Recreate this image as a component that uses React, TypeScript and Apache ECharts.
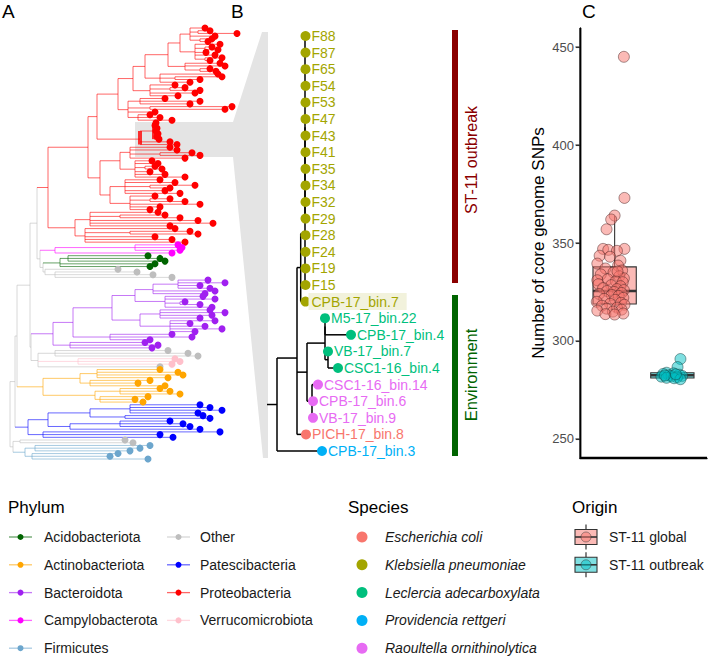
import React, { useEffect, useRef } from 'react';
import * as echarts from 'echarts';

const FONT = '"Liberation Sans", Arial, Helvetica, sans-serif';

// ---------- legend / colour scales ----------
const phylumNames = ['Acidobacteriota', 'Actinobacteriota', 'Bacteroidota', 'Campylobacterota', 'Firmicutes', 'Other', 'Patescibacteria', 'Proteobacteria', 'Verrucomicrobiota'];
const phylumColors = ['#006400', '#FFA500', '#A020F0', '#FF00FF', '#6CA6CD', '#BEBEBE', '#0000FF', '#FF0000', '#FFC0CB'];
const speciesNames = ['Escherichia coli', 'Klebsiella pneumoniae', 'Leclercia adecarboxylata', 'Providencia rettgeri', 'Raoultella ornithinolytica'];
const speciesColors = ['#F8766D', '#A3A500', '#00BF7D', '#00B0F6', '#E76BF3'];
const originNames = ['ST-11 global', 'ST-11 outbreak'];
const originColors = ['#F8766D', '#00BFC4'];

// ---------- Panel A: phylogeny (nested [nodeDepth, ...children]; a number is a tip depth) ----------
type TNode = number | TNode[] | { phylum?: string; hl?: boolean; t: TNode };

const proteobacteria: TNode = [48,
  [88,
    [97,
      [118,
        [133,
          [145,
            [168,
              [180,
                [190, 205, [198, 210, 237], 215, [200, 212, 208]],
                [195, 220, [205, 212, 218], 206, 215, [205, 222, 210]]],
              [185, 220, 225, [200, 210, 216]]],
            [160, 218, [175, 222, 200], 190]],
          [150, 175, [170, 185, 200], 195, 178]],
        [128, [140, 165, 200, 190], [150, 232, 225], 155, [138, 150, 160, 172]]],
      { hl: true, t: [140, [154, 156, 155, 157, 156, 158, 157, 159], 170, 177] }],
    [100,
      [120, [130, 170, 177, [160, 192, 200], 185], [135, 152, 158, [145, 155, 162], 150, 165, 185]],
      [110, [125, 160, 175, [150, 195, 170], 165, 180], [130, 155, [150, 170, 185], 200, 160, 150]]]],
  [62, [75, [90, 158, [120, 165, 180], 198, 213, 170], [85, 175, [130, 190, 198], 155, 172, 185]]]];
const campylobacterota: TNode = [55, [135, 178, 182, 180], 172];
const acidobacteriota: TNode = [48, [60, [68, 148, 160, 165], 155, 150]];
const otherA: TNode = [45, 118, [55, 137, 153, 172]];
const bacteroidota: TNode = [53,
  [73,
    [112,
      [135,
        [153, [178, 208, 225, 200, 210], 215, 205],
        [165, 203, 215, [180, 185, 200], 212]],
      [140, [160, 210, 225, 212, 200], [170, 215, 190, 205, 222, 195]]],
    [110, 172, 192, 150]],
  [70, 145, 158, 152]];
const verrucomicrobiota: TNode = [42, [78, 175, 180, 172]];
const otherB: TNode = [38, [55, 168, 188, 198], { phylum: 'Verrucomicrobiota', t: verrucomicrobiota }, 160];
const actinobacteriota: TNode = [43, [80, [97, 160, 178, 183, 168], [90, 150, 138, 165]], [95, [120, 160, 170, 180], [100, 148, 135, 143]]];
const patescibacteria: TNode = [28, [48, [90, [130, 200, 210, 222, 198], [125, 203, 210]], [70, [120, 170, 183, 190], 200]], [43, 220, 160, 173]];
const otherC: TNode = [20, 125, 133];
const firmicutes: TNode = [25, [35, 150, 140, 130], [32, 118, 110, 148]];

const treeA: TNode = [10,
  [15,
    [17,
      [30,
        [37,
          { phylum: 'Proteobacteria', t: proteobacteria },
          [40,
            { phylum: 'Campylobacterota', t: campylobacterota },
            [43, { phylum: 'Acidobacteriota', t: acidobacteriota }, { phylum: 'Other', t: otherA }]]],
        [31, { phylum: 'Bacteroidota', t: bacteroidota }, { phylum: 'Other', t: otherB }]],
      { phylum: 'Actinobacteriota', t: actinobacteriota }],
    { phylum: 'Patescibacteria', t: patescibacteria }],
  [13, { phylum: 'Other', t: otherC }, { phylum: 'Firmicutes', t: firmicutes }]];

// ---------- Panel B: zoomed ST-11 clade ----------
const bTipNames = ['F88', 'F87', 'F65', 'F54', 'F53', 'F47', 'F43', 'F41', 'F35', 'F34', 'F32', 'F29', 'F28', 'F24', 'F19', 'F15',
  'CPB-17_bin.7', 'M5-17_bin.22', 'CPB-17_bin.4', 'VB-17_bin.7', 'CSC1-16_bin.4', 'CSC1-16_bin.14', 'CPB-17_bin.6', 'VB-17_bin.9', 'PICH-17_bin.8', 'CPB-17_bin.3'];
const bTipSpecies = [1, 1, 1, 1, 1, 1, 1, 1, 1, 1, 1, 1, 1, 1, 1, 1, 1, 2, 2, 2, 2, 4, 4, 4, 0, 3];
const bHighlighted = ['CPB-17_bin.7'];
const bRootEdge = 10;
const treeB: TNode = [0,
  [20,
    [23.7,
      [28, [28, 28.5, 28.5, 28.5, 28.5, 28.5, 28.5, 28.5, 28.5, 28.5, 28.5, 28.5, 28.5], 28.5, 28.5, 28.5, 28.5],
      28.5],
    [30, [48, [48, 48, 74], [51, 51, 61]], [35, 41, 36, 36]],
    29],
  45];

// ---------- Panel C: core genome SNPs ----------
const originPositions = [1, 2];
const globalBox = [314.8, 318.9, 325.5, 337.8, 363.8];
const outbreakBox = [280.3, 281.1, 282.5, 283.8, 285.0];
const globalSNPs = [445, 373, 364, 362, 357, 347, 347, 346.5, 346, 343.5, 343, 341, 339.5, 338.5, 337, 336, 335, 334, 333, 332, 331.5, 331, 330.5, 330, 329, 328.5, 328, 327, 326.5, 326, 325.5, 325, 324.5, 324, 323.5, 323, 322, 321.5, 321, 320, 319.5, 319, 318.5, 318, 317, 316.5, 316, 315.5, 315, 314, 313.7, 313.5, 335.5];
const globalJitter = [0.16, 0.17, 0.0, -0.06, -0.14, 0.17, -0.2, -0.11, 0.04, -0.26, -0.08, 0.1, -0.3, 0.06, -0.16, 0.13, -0.02, -0.24, 0.08, 0.16, -0.12, -0.3, 0.02, 0.14, -0.28, -0.06, 0.1, -0.2, 0.04, 0.16, -0.13, -0.01, 0.12, -0.27, -0.05, 0.07, 0.15, -0.18, 0.01, -0.31, 0.11, -0.08, 0.17, -0.22, 0.04, -0.14, 0.12, -0.3, -0.03, 0.15, -0.16, 0.0, 0.05];
const outbreakSNPs = [290.8, 286.7, 283.8, 283.5, 283.2, 282.8, 282.5, 282.2, 282.0, 281.8, 281.5, 281.2, 281.0, 280.5, 282.4, 283.0];
const outbreakJitter = [0.14, 0.09, -0.1, 0.02, -0.16, 0.12, -0.06, 0.17, -0.02, -0.19, 0.08, -0.1, 0.03, 0.14, -0.13, 0.06];
const yTicks = [250, 300, 350, 400, 450];
const cXRange = [0.4, 2.6];
const cYRange = [240.3, 459.7];

// ---------- layout (pixels) ----------
const gridC = { left: 580, top: 28, width: 127, height: 430 };

// ---------- helpers ----------
const rgba = (hex: string, a: number) =>
  `rgba(${parseInt(hex.slice(1, 3), 16)},${parseInt(hex.slice(3, 5), 16)},${parseInt(hex.slice(5, 7), 16)},${a})`;
const phColor = (p: string) => phylumColors[phylumNames.indexOf(p)];

interface LSeg { x1: number; y1: number; x2: number; y2: number; ph: string; hl: boolean; vertical: boolean }
interface LTip { x: number; y: number; ph: string; hl: boolean }

function layoutTree(root: TNode, basePh: string) {
  const tips: LTip[] = [];
  const segs: LSeg[] = [];
  const walk = (node: TNode, ph: string, hl: boolean): { x: number; y: number; ph: string; hl: boolean } => {
    if (typeof node === 'number') {
      const tip = { x: node, y: tips.length, ph, hl };
      tips.push(tip);
      return tip;
    }
    if (!Array.isArray(node)) return walk(node.t, node.phylum ?? ph, node.hl ?? hl);
    const d = node[0] as number;
    const kids = node.slice(1);
    const res = kids.map((k) => walk(k, ph, hl));
    const ys = res.map((r) => r.y);
    segs.push({ x1: d, y1: Math.min(...ys), x2: d, y2: Math.max(...ys), ph, hl, vertical: true });
    res.forEach((r) => segs.push({ x1: d, y1: r.y, x2: r.x, y2: r.y, ph: r.ph, hl: r.hl, vertical: false }));
    return { x: d, y: ys.reduce((a, b) => a + b, 0) / ys.length, ph, hl };
  };
  const top = walk(root, basePh, false);
  return { tips, segs, root: top };
}

function buildGraphics() {
  const g: any[] = [];
  g.push({
    type: 'polygon',
    shape: { points: [[135, 122], [233, 122], [262, 32], [268, 32], [268, 458], [263, 458], [233, 157], [135, 157]] },
    style: { fill: '#E4E4E4' },
  });
  [['A', 2], ['B', 231], ['C', 582]].forEach(([t, x]) =>
    g.push({ type: 'text', x, y: 2, style: { text: t, fontSize: 19, fontFamily: FONT, fill: '#000', align: 'left', verticalAlign: 'top' } }));
  g.push({ type: 'rect', shape: { x: 452, y: 30, width: 6, height: 253 }, style: { fill: '#8B0000' } });
  g.push({ type: 'rect', shape: { x: 452, y: 295, width: 6, height: 161 }, style: { fill: '#006400' } });
  g.push({ type: 'text', x: 471, y: 160, rotation: Math.PI / 2, style: { text: 'ST-11 outbreak', fontSize: 16, fontFamily: FONT, fill: '#8B0000', align: 'center', verticalAlign: 'middle' } });
  g.push({ type: 'text', x: 471, y: 375, rotation: Math.PI / 2, style: { text: 'Environment', fontSize: 16.5, fontFamily: FONT, fill: '#006400', align: 'center', verticalAlign: 'middle' } });

  const rowY = (r: number) => 537 + r * 27.8;
  const title = (t: string, x: number) =>
    g.push({ type: 'text', x, y: 507, style: { text: t, fontSize: 17, fontFamily: FONT, fill: '#000', align: 'left', verticalAlign: 'middle' } });
  title('Phylum', 8);
  title('Species', 348);
  title('Origin', 572);
  phylumNames.forEach((p, i) => {
    const col = i < 5 ? 0 : 1;
    const r = col === 0 ? i : i - 5;
    const x0 = col === 0 ? 9 : 167;
    const lx = col === 0 ? 44 : 200;
    const y = rowY(r);
    g.push({ type: 'line', shape: { x1: x0, y1: y, x2: x0 + 23, y2: y }, style: { stroke: rgba(phylumColors[i], 0.6), lineWidth: 1.3 } });
    g.push({ type: 'circle', shape: { cx: x0 + 11.5, cy: y, r: 3 }, style: { fill: phylumColors[i] } });
    g.push({ type: 'text', x: lx, y, style: { text: p, fontSize: 14, fontFamily: FONT, fill: '#1a1a1a', align: 'left', verticalAlign: 'middle' } });
  });
  speciesNames.forEach((s, i) => {
    const y = rowY(i);
    g.push({ type: 'circle', shape: { cx: 362, cy: y, r: 5.5 }, style: { fill: speciesColors[i] } });
    g.push({ type: 'text', x: 385, y, style: { text: s, fontSize: 14, fontStyle: 'italic', fontFamily: FONT, fill: '#1a1a1a', align: 'left', verticalAlign: 'middle' } });
  });
  originNames.forEach((o, i) => {
    const y = rowY(i);
    g.push({ type: 'rect', shape: { x: 585.4, y: y - 12.5, width: 1.2, height: 25 }, style: { fill: '#333' } });
    g.push({ type: 'rect', shape: { x: 575, y: y - 7.5, width: 22, height: 15 }, style: { fill: '#ffffff' } });
    g.push({ type: 'rect', shape: { x: 575, y: y - 7.5, width: 22, height: 15 }, style: { fill: rgba(originColors[i], 0.5), stroke: '#333', lineWidth: 1.1 } });
    g.push({ type: 'rect', shape: { x: 575, y: y - 0.8, width: 22, height: 1.6 }, style: { fill: '#333' } });
    g.push({ type: 'circle', shape: { cx: 586, cy: y, r: 5 }, style: { fill: rgba(originColors[i], 0.5), stroke: 'rgba(50,50,50,0.6)', lineWidth: 0.8 } });
    g.push({ type: 'text', x: 609, y, style: { text: o, fontSize: 14, fontFamily: FONT, fill: '#1a1a1a', align: 'left', verticalAlign: 'middle' } });
  });
  return g;
}

function buildOption() {
  const A = layoutTree(treeA, 'Other');
  const aSegs = A.segs.map((s) => ({
    ...s,
    color: rgba(phColor(s.ph), s.hl && s.vertical ? 0.8 : 0.6),
    w: s.hl && s.vertical ? 4 : 1,
  }));
  const B = layoutTree(treeB, 'Other');
  const bSegs = B.segs.map((s) => ({ ...s }));
  bSegs.push({ x1: -bRootEdge, y1: B.root.y, x2: 0, y2: B.root.y, ph: 'Other', hl: false, vertical: false });

  const lineRender = (segs: any[], colorFn: (s: any) => string, wFn: (s: any) => number) =>
    (params: any, api: any) => {
      const s = segs[params.dataIndex];
      const p1 = api.coord([api.value(0), api.value(1)]);
      const p2 = api.coord([api.value(2), api.value(3)]);
      return {
        type: 'line',
        shape: { x1: p1[0], y1: p1[1], x2: p2[0], y2: p2[1] },
        style: { stroke: colorFn(s), lineWidth: wFn(s), lineCap: 'butt' },
      };
    };

  const boxData = [
    [originPositions[0], ...globalBox],
    [originPositions[1], ...outbreakBox],
  ];
  const boxWidth = 0.75;

  return {
    animation: false,
    backgroundColor: '#ffffff',
    textStyle: { fontFamily: FONT },
    graphic: { elements: buildGraphics() },
    grid: [
      { left: 0, top: 28, width: 240, height: 431 },
      { left: 267, top: 36, width: 110, height: 415 },
      { ...gridC },
    ],
    xAxis: [
      { gridIndex: 0, type: 'value', min: 0, max: 240, show: false },
      { gridIndex: 1, type: 'value', min: -bRootEdge, max: 100, show: false },
      {
        gridIndex: 2, type: 'value', min: cXRange[0], max: cXRange[1],
        axisLine: { show: true, onZero: false, lineStyle: { color: '#000', width: 1.3 } },
        axisTick: { show: false }, axisLabel: { show: false }, splitLine: { show: false },
      },
    ],
    yAxis: [
      { gridIndex: 0, type: 'value', min: 0, max: A.tips.length - 1, inverse: true, show: false },
      { gridIndex: 1, type: 'value', min: 0, max: B.tips.length - 1, inverse: true, show: false },
      {
        gridIndex: 2, type: 'value', min: cYRange[0], max: cYRange[1],
        axisLine: { show: true, onZero: false, lineStyle: { color: '#000', width: 1.3 } },
        axisTick: { show: true, customValues: yTicks, length: 4, lineStyle: { color: '#333', width: 1.1 } },
        axisLabel: { show: true, customValues: yTicks, color: '#4D4D4D', fontSize: 13, margin: 6, fontFamily: FONT },
        splitLine: { show: false },
        name: 'Number of core genome SNPs', nameLocation: 'middle', nameGap: 33, nameRotate: 90,
        nameMoveOverlap: false,
        nameTextStyle: { color: '#000', fontSize: 17, fontFamily: FONT },
      },
    ],
    series: [
      {
        type: 'custom', xAxisIndex: 0, yAxisIndex: 0, silent: true, clip: false,
        data: aSegs.map((s) => [s.x1, s.y1, s.x2, s.y2]),
        encode: { x: [0, 2], y: [1, 3] },
        renderItem: lineRender(aSegs, (s) => s.color, (s) => s.w),
      },
      {
        type: 'scatter', xAxisIndex: 0, yAxisIndex: 0, silent: true, symbolSize: 7,
        data: A.tips.map((t) => ({ value: [t.x, t.y], itemStyle: { color: phColor(t.ph), opacity: 1 } })),
      },
      {
        type: 'custom', xAxisIndex: 1, yAxisIndex: 1, silent: true, clip: false,
        data: bSegs.map((s) => [s.x1, s.y1, s.x2, s.y2]),
        encode: { x: [0, 2], y: [1, 3] },
        renderItem: lineRender(bSegs, () => '#000', () => 1.5),
      },
      {
        type: 'scatter', xAxisIndex: 1, yAxisIndex: 1, silent: true, symbolSize: 10,
        data: B.tips.map((t, i) => {
          const c = speciesColors[bTipSpecies[i]];
          const hl = bHighlighted.includes(bTipNames[i]);
          return {
            name: bTipNames[i],
            value: [t.x, t.y],
            itemStyle: { color: c, opacity: 1 },
            label: hl
              ? { color: c, backgroundColor: '#F2F2DC', padding: [2, 8, 1, 3], distance: -2 }
              : { color: c },
          };
        }),
        label: { show: true, position: 'right', distance: 1, formatter: (p: any) => p.name, fontSize: 14, fontFamily: FONT },
      },
      {
        type: 'custom', xAxisIndex: 2, yAxisIndex: 2, silent: true, clip: false,
        data: boxData,
        encode: { x: 0, y: [1, 2, 3, 4, 5] },
        renderItem: (params: any, api: any) => {
          const pos = api.value(0);
          const lw = api.value(1), q1 = api.value(2), med = api.value(3), q3 = api.value(4), uw = api.value(5);
          const [xl, yq3] = api.coord([pos - boxWidth / 2, q3]);
          const [xr, yq1] = api.coord([pos + boxWidth / 2, q1]);
          const [xc, ymed] = api.coord([pos, med]);
          const ylw = api.coord([pos, lw])[1];
          const yuw = api.coord([pos, uw])[1];
          const color = originColors[params.dataIndex];
          const children: any[] = [
            { type: 'line', shape: { x1: xc, y1: yq3, x2: xc, y2: yuw }, style: { stroke: '#333', lineWidth: 1.1 } },
            { type: 'line', shape: { x1: xc, y1: yq1, x2: xc, y2: ylw }, style: { stroke: '#333', lineWidth: 1.1 } },
            { type: 'rect', shape: { x: xl, y: yq3, width: xr - xl, height: yq1 - yq3 }, style: { fill: rgba(color, 0.5), stroke: '#333', lineWidth: 1.1 } },
            { type: 'line', shape: { x1: xl, y1: ymed, x2: xr, y2: ymed }, style: { stroke: '#333', lineWidth: 2.4 } },
          ];
          if (params.dataIndex === 0) {
            const o = api.coord([cXRange[0], cYRange[0]]);
            const t = api.coord([cXRange[0], cYRange[1]]);
            const r = api.coord([cXRange[1], cYRange[0]]);
            children.push({
              type: 'polyline', z2: 100,
              shape: { points: [[t[0] + 0.65, t[1]], [o[0] + 0.65, o[1] - 0.65], [r[0], r[1] - 0.65]] },
              style: { stroke: '#000', lineWidth: 1.3, fill: null, lineJoin: 'miter' },
            });
          }
          return { type: 'group', children };
        },
      },
      {
        type: 'scatter', xAxisIndex: 2, yAxisIndex: 2, silent: true, symbolSize: 11,
        data: globalSNPs.map((v, i) => [originPositions[0] + globalJitter[i], v]),
        itemStyle: { color: rgba(originColors[0], 0.5), borderColor: 'rgba(70,30,30,0.6)', borderWidth: 0.8, opacity: 1 },
      },
      {
        type: 'scatter', xAxisIndex: 2, yAxisIndex: 2, silent: true, symbolSize: 11,
        data: outbreakSNPs.map((v, i) => [originPositions[1] + outbreakJitter[i], v]),
        itemStyle: { color: rgba(originColors[1], 0.5), borderColor: 'rgba(20,60,60,0.6)', borderWidth: 0.8, opacity: 1 },
      },
    ],
  };
}

export default function App() {
  const ref = useRef<HTMLDivElement>(null);
  useEffect(() => {
    document.body.style.margin = '0';
    const chart = echarts.init(ref.current as HTMLDivElement, null, { renderer: 'svg' });
    const option: any = buildOption();
    chart.setOption(option);
    // y axis line and ticks of panel C on the top layer, positioned through the grid's own scales
    const finder = { gridIndex: 2 } as any;
    const toPx = (x: number, y: number, fx: number, fy: number) => {
      const p = chart.convertToPixel(finder, [x, y]) as any;
      return Array.isArray(p) && isFinite(p[0]) && isFinite(p[1]) ? p : [fx, fy];
    };
    const o = toPx(cXRange[0], cYRange[0], gridC.left, gridC.top + gridC.height);
    const t = toPx(cXRange[0], cYRange[1], gridC.left, gridC.top);
    const axisEls: any[] = [
      { type: 'rect', zlevel: 10, z: 100, shape: { x: o[0] - 0.65, y: t[1], width: 1.3, height: o[1] - t[1] + 0.65 }, style: { fill: '#000' } },
    ];
    yTicks.forEach((v) => {
      const span = cYRange[1] - cYRange[0];
      const p = toPx(cXRange[0], v, gridC.left, gridC.top + ((cYRange[1] - v) / span) * gridC.height);
      axisEls.push({ type: 'rect', zlevel: 10, z: 100, shape: { x: p[0] - 4.6, y: p[1] - 0.55, width: 4.6, height: 1.1 }, style: { fill: '#333' } });
    });
    chart.setOption({ graphic: { elements: buildGraphics().concat(axisEls) } } as any);
    return () => chart.dispose();
  }, []);
  return <div ref={ref} style={{ width: 708, height: 657 }} />;
}
